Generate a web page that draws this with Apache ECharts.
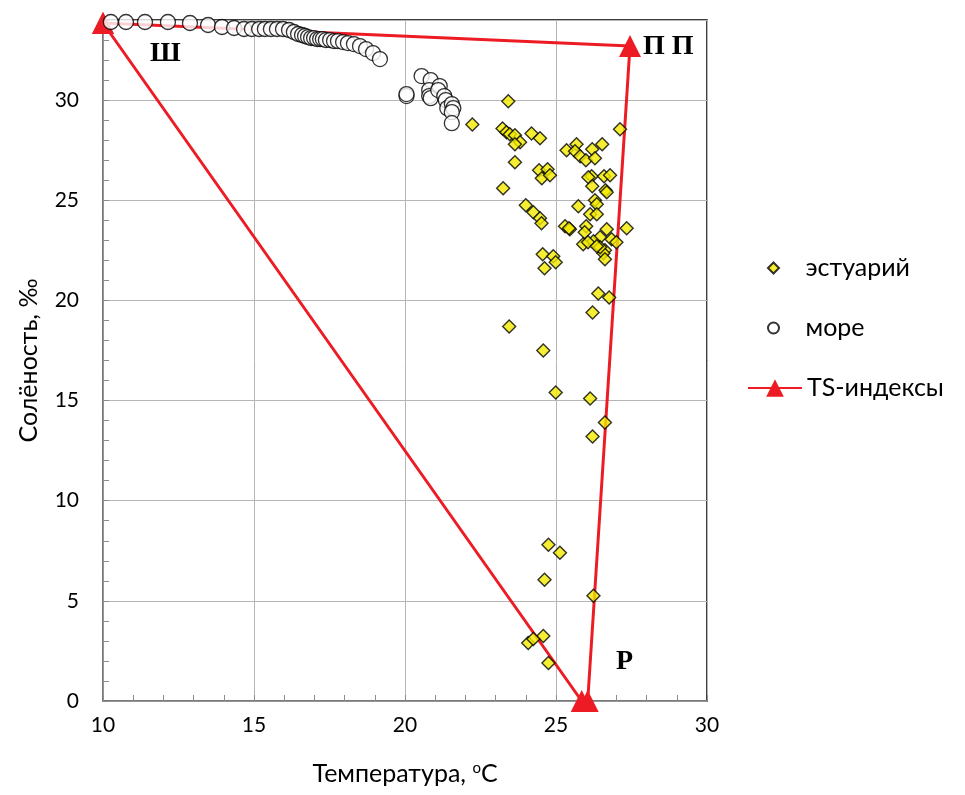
<!DOCTYPE html>
<html><head><meta charset="utf-8">
<script src="https://cdn.jsdelivr.net/npm/echarts@6/dist/echarts.min.js"></script>
<style>html,body{margin:0;padding:0;background:#fff}#c{width:965px;height:795px}</style>
</head><body><div id="c"></div>
<script>
// эстуарий: temperature / salinity
const estuaryT = [23.42,22.23,23.23,23.36,23.47,23.64,24.19,24.47,23.81,23.64,23.64,24.44,24.72,24.53,24.80,23.25,24.00,24.25,24.47,24.52,
  25.35,25.68,25.63,25.80,25.99,26.20,26.53,26.29,27.12,26.18,26.07,26.59,26.79,26.20,26.64,26.68,25.74,26.29,26.35,26.13,26.35,
  25.30,25.46,25.43,26.00,25.95,26.68,26.46,26.24,25.90,26.06,26.84,27.00,27.34,26.62,26.57,26.62,26.46,26.35,
  24.56,24.91,24.99,24.62,26.40,26.76,26.21,23.45,24.58,24.99,26.13,26.62,26.21,
  24.75,25.13,24.62,26.24,24.58,24.08,24.25,24.75];
const estuaryS = [29.94,28.78,28.58,28.40,28.30,28.25,28.33,28.10,27.90,27.80,26.90,26.50,26.55,26.10,26.25,25.60,24.75,24.40,24.10,23.85,
  27.50,27.80,27.45,27.20,27.00,27.55,27.80,27.10,28.55,26.20,26.15,26.20,26.25,25.70,25.50,25.40,24.70,25.00,24.80,24.30,24.30,
  23.70,23.55,23.60,23.70,23.40,23.55,23.15,22.95,22.80,22.90,23.05,22.90,23.60,22.50,22.35,22.05,22.65,22.70,
  22.30,22.20,21.90,21.60,20.35,20.15,19.40,18.70,17.50,15.40,15.10,13.90,13.20,
  7.80,7.40,6.05,5.25,3.25,2.90,3.10,1.90];
// море
const seaT = [10.26,10.76,11.39,12.15,12.88,13.48,13.94,14.34,14.67,14.93,15.17,15.36,15.56,15.76,15.96,16.16,16.32,16.46,16.59,16.69,
  16.79,16.89,16.99,17.09,17.19,17.28,17.38,17.52,17.65,17.78,17.95,18.11,18.31,18.51,18.71,18.94,19.17,
  20.05,20.05,20.55,20.85,20.80,20.80,20.85,21.15,21.10,21.30,21.35,21.40,21.55,21.60,21.55,21.55];
const seaS = [33.90,33.90,33.90,33.90,33.85,33.75,33.65,33.60,33.55,33.55,33.55,33.55,33.55,33.55,33.55,33.50,33.40,33.30,33.25,33.20,
  33.15,33.10,33.10,33.05,33.05,33.05,33.00,33.00,32.95,32.95,32.90,32.85,32.80,32.70,32.55,32.35,32.05,
  30.20,30.30,31.20,31.00,30.50,30.20,30.10,30.70,30.50,30.20,30.00,29.60,29.80,29.60,29.40,28.85];
// TS-индексы
const tsNames = ['Ш','Р','Р','П П','Ш'];
const tsT = [10.00,25.85,26.05,27.45,10.00];
const tsS = [33.85,0,0,32.70,33.85];
const seriesNames = ['эстуарий','море','TS-индексы'];
const xTitle = 'Температура, ';
const yTitle = 'Солёность, ‰';

const zip = (a,b)=>a.map((v,i)=>[v,b[i]]);
const chart = echarts.init(document.getElementById('c'));
const FONT = 'Lato';
const legendText = {fontFamily:FONT,fontSize:25,color:'#000',lineHeight:26};
chart.setOption({
  animation:false,
  backgroundColor:'#fff',
  grid:{left:103,right:258,top:20,bottom:94,show:true,borderColor:'#000',borderWidth:1.5,backgroundColor:'transparent'},
  legend:[
    {orient:'vertical',left:762,top:250,itemWidth:54,itemHeight:11,itemGap:34,
     data:[{name:seriesNames[0],icon:'path://M5,0L10,5L5,10L0,5Z'},{name:seriesNames[1],icon:'circle'}],
     textStyle:legendText},
    {orient:'vertical',left:742,top:370,itemWidth:54,itemHeight:22,
     data:[seriesNames[2]],textStyle:legendText}
  ],
  xAxis:{
    type:'value',min:10,max:30,interval:5,
    name:xTitle+'{sup|o}C',nameLocation:'middle',nameGap:60,
    nameTextStyle:{fontFamily:FONT,fontSize:25,color:'#000',rich:{sup:{fontFamily:FONT,fontSize:15,color:'#000',verticalAlign:'top',padding:[0,0,10,0]}}},
    axisLine:{show:true,lineStyle:{color:'#8c8c8c',width:1.5}},
    axisTick:{show:true,inside:true,length:6,lineStyle:{color:'#8c8c8c'}},
    minorTick:{show:true,splitNumber:5,length:6,lineStyle:{color:'#8c8c8c'}},
    splitLine:{show:true,lineStyle:{color:'#b5b5b5',width:1}},
    axisLabel:{fontFamily:FONT,fontSize:21,color:'#000',margin:14}
  },
  yAxis:{
    type:'value',min:0,max:34,interval:5,
    name:yTitle,nameLocation:'middle',nameGap:62,nameRotate:90,
    nameTextStyle:{fontFamily:FONT,fontSize:25,color:'#000'},
    axisLine:{show:true,lineStyle:{color:'#8c8c8c',width:1.5}},
    axisTick:{show:true,inside:true,length:6,lineStyle:{color:'#8c8c8c'}},
    minorTick:{show:true,splitNumber:5,length:6,lineStyle:{color:'#8c8c8c'}},
    splitLine:{show:true,lineStyle:{color:'#b5b5b5',width:1}},
    axisLabel:{fontFamily:FONT,fontSize:21,color:'#000',margin:24,showMaxLabel:false}
  },
  series:[
    {name:seriesNames[0],type:'scatter',z:4,symbol:'diamond',symbolSize:13,
     itemStyle:{color:'#f2ea00',borderColor:'#000',borderWidth:1.4},
     data:zip(estuaryT,estuaryS)},
    {name:seriesNames[1],type:'scatter',z:3,symbol:'circle',symbolSize:15,
     itemStyle:{color:'#fff',borderColor:'#000',borderWidth:1.3},
     data:zip(seaT,seaS)},
    {name:seriesNames[2],type:'line',z:2,symbol:'triangle',symbolSize:22,
     lineStyle:{color:'#ed1c24',width:3},itemStyle:{color:'#ed1c24'},
     data:tsT.map((t,i)=>({value:[t,tsS[i]],name:tsNames[i]}))}
  ],
  graphic:[
    {type:'text',left:150,top:40,style:{text:'Ш',font:'bold 28px "Liberation Serif"',fill:'#000'}},
    {type:'text',left:643,top:33,style:{text:'П П',font:'bold 28px "Liberation Serif"',fill:'#000'}},
    {type:'text',left:616,top:648,style:{text:'Р',font:'bold 28px "Liberation Serif"',fill:'#000'}}
  ]
});
</script></body></html>
